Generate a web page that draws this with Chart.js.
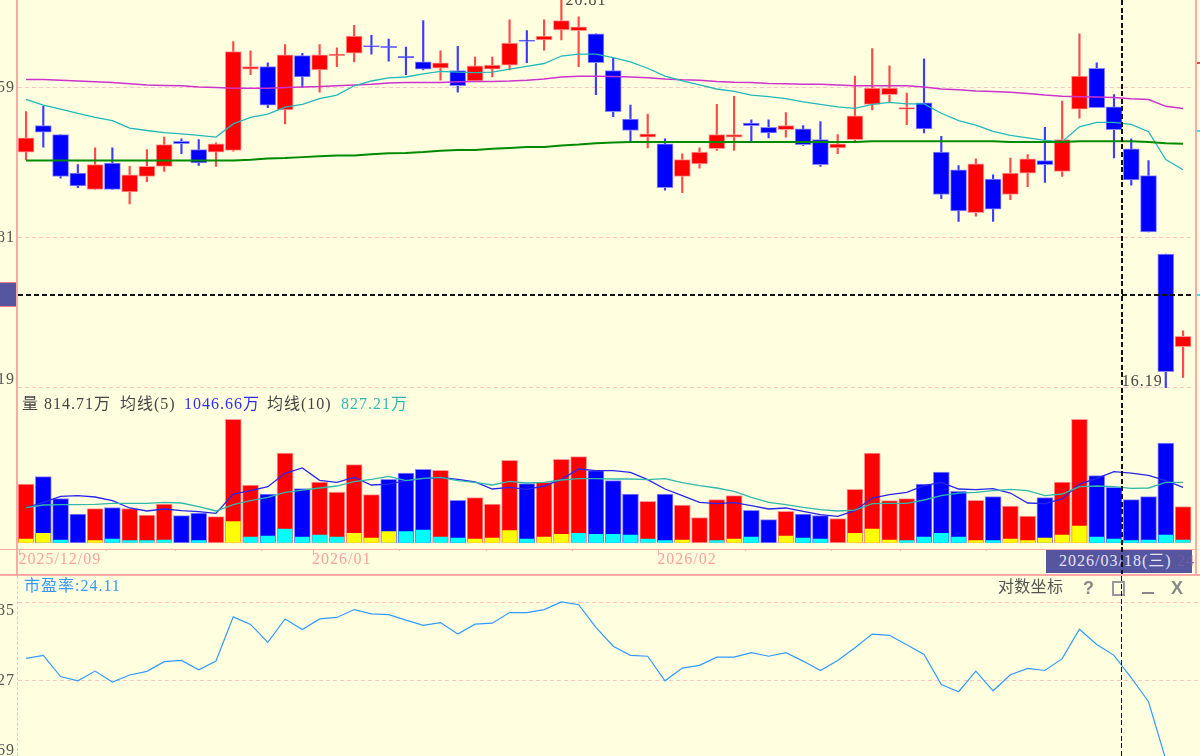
<!DOCTYPE html>
<html>
<head>
<meta charset="utf-8">
<script src="https://cdn.jsdelivr.net/npm/chart.js@4/dist/chart.umd.js"></script>
<style>
  html, body { margin: 0; padding: 0; background: #ffffe0; width: 1200px; height: 756px; overflow: hidden; }
  canvas { position: absolute; left: 0; display: block; }
  .txt { position: absolute; white-space: nowrap; font: 16px "Liberation Serif", "Noto Sans CJK SC", serif; letter-spacing: 1px; line-height: 18px; color: #444; z-index: 3; }
  .line { position: absolute; background: #ffa8a8; z-index: 2; }
  .icon { position: absolute; font: bold 18px "Liberation Sans", sans-serif; color: #888; line-height: 18px; z-index: 3; }
  .cursor-v { position: absolute; left: 1120.5px; width: 2px; background: repeating-linear-gradient(to bottom, #111 0 5px, transparent 5px 7.6px); z-index: 4; }
  .cursor-h { position: absolute; left: 18px; width: 1174px; top: 293.5px; height: 2px; background: repeating-linear-gradient(to right, #111 0 5px, transparent 5px 8px); z-index: 4; }
  .box { position: absolute; background: #5555a0; z-index: 2; }
  .mark { position: absolute; width: 4px; height: 2px; left: 1197px; z-index: 2; }
</style>
</head>
<body>
<canvas id="price-chart" width="1200" height="392" style="top:0"></canvas>
<canvas id="volume-chart" width="1200" height="186" style="top:388px"></canvas>
<canvas id="pe-chart" width="1200" height="184" style="top:575px"></canvas>

<!-- marcos del panel -->
<div class="line" style="left:16px;top:0;width:2px;height:574px"></div>
<div class="line" style="left:1195px;top:0;width:2px;height:574px"></div>
<div class="line" style="left:0;top:549px;width:1197px;height:1px"></div>
<div class="line" style="left:0;top:574px;width:1200px;height:2px"></div>
<div style="position:absolute;left:16.5px;top:576px;height:180px;border-left:1px dashed #ffbcbc;z-index:2"></div>

<div class="box" style="left:0;top:282px;width:16px;height:23px;border-top:1px solid #f07a90;border-bottom:1px solid #f07a90"></div>
<div class="box" style="left:1046px;top:550px;width:146px;height:23px"></div>
<div class="txt" style="left:1059px;top:552px;color:#e4e4f4">2026/03/18(三)</div>
<div class="txt" style="left:1177px;top:552px;color:#7a5aa0">24</div>

<div class="mark" style="top:62px;background:#e05050"></div>
<div class="mark" style="top:130px;background:#40e0e0"></div>
<div class="mark" style="top:294px;background:#40e0e0"></div>

<div class="cursor-h"></div>
<div class="cursor-v" style="top:0;height:574px"></div>
<div class="cursor-v" style="top:576px;height:180px;width:1.5px"></div>

<!-- leyenda de volumen -->
<div class="txt" style="left:22px;top:395px">量</div>
<div class="txt" id="vol-current" style="left:44px;top:395px"></div>
<div class="txt" style="left:120px;top:395px">均线(5)</div>
<div class="txt" id="vol-ma5" style="left:184px;top:395px;color:#3030e8"></div>
<div class="txt" style="left:267px;top:395px">均线(10)</div>
<div class="txt" id="vol-ma10" style="left:341px;top:395px;color:#30b8b0"></div>

<div class="txt" id="pe-current" style="left:24px;top:577px;color:#3399ff"></div>
<div class="txt" style="left:998px;top:578px;color:#555;letter-spacing:.3px">对数坐标</div>
<div class="icon" style="left:1083px;top:579px">?</div>
<div class="icon" style="left:1112px;top:581px;width:9px;height:11px;border:2px solid #999"></div>
<div class="icon" style="left:1142px;top:592px;width:12px;height:2px;background:#888"></div>
<div class="icon" style="left:1171px;top:579px">X</div>

<script>
// --- DATOS ---
const opens = [18.81,19.13,19.02,18.56,18.37,18.68,18.34,18.52,18.64,18.94,18.84,18.81,18.83,19.83,19.86,19.32,20.00,19.82,20.00,20.03,20.12,20.12,19.99,19.92,19.84,19.81,19.68,19.83,19.88,20.19,20.20,20.33,20.32,20.28,19.81,19.21,18.99,18.91,18.52,18.67,18.85,18.99,19.16,19.11,19.08,19.09,18.96,18.86,18.96,19.39,19.51,19.33,19.41,18.81,18.60,18.10,18.49,18.31,18.56,18.71,18.58,19.33,19.84,19.36,18.85,18.53,17.63,16.62];
const closes = [18.98,19.05,18.52,18.41,18.66,18.37,18.54,18.64,18.90,18.91,18.68,18.91,20.05,19.86,19.38,20.01,19.73,20.01,20.02,20.25,20.11,20.10,19.97,19.83,19.91,19.62,19.87,19.88,20.16,20.18,20.25,20.45,20.37,19.91,19.30,19.07,19.03,18.39,18.72,18.81,19.02,19.02,19.13,19.04,19.13,18.90,18.66,18.91,19.25,19.59,19.59,19.35,19.09,18.31,18.12,18.67,18.14,18.56,18.73,18.66,18.96,19.74,19.35,19.08,18.48,17.88,16.36,16.73];
const highs = [19.30,19.37,19.02,18.66,18.86,18.86,18.64,18.84,18.99,18.97,18.96,18.92,20.18,20.06,19.91,20.14,20.03,20.14,20.10,20.39,20.26,20.21,20.11,20.45,20.06,20.12,19.98,19.98,20.46,20.32,20.46,20.81,20.50,20.28,19.97,19.38,19.27,18.97,18.79,18.86,19.39,19.49,19.20,19.20,19.29,19.13,19.18,19.02,19.74,20.09,19.87,19.53,19.96,19.00,18.65,18.73,18.54,18.74,18.78,19.11,19.43,20.28,19.91,19.51,18.97,18.71,17.63,16.79];
const lows = [18.72,18.87,18.50,18.39,18.37,18.37,18.20,18.46,18.58,18.79,18.65,18.64,18.82,19.76,19.35,19.15,19.60,19.54,19.86,19.92,20.02,19.93,19.76,19.82,19.69,19.54,19.67,19.73,19.82,19.91,20.07,20.20,19.86,19.51,19.24,18.93,18.86,18.36,18.33,18.62,18.83,18.83,18.93,18.98,18.99,18.89,18.64,18.79,18.94,19.32,19.42,19.14,19.04,18.26,18.00,18.06,18.00,18.25,18.40,18.45,18.52,19.22,19.35,18.74,18.42,17.88,16.19,16.30];

const priceMaLong = [19.70,19.70,19.69,19.68,19.67,19.66,19.645,19.63,19.625,19.62,19.605,19.60,19.59,19.59,19.59,19.60,19.605,19.61,19.62,19.63,19.64,19.655,19.66,19.66,19.66,19.67,19.675,19.675,19.68,19.69,19.705,19.73,19.74,19.74,19.735,19.73,19.72,19.705,19.695,19.69,19.675,19.665,19.66,19.65,19.645,19.64,19.64,19.63,19.62,19.62,19.62,19.62,19.605,19.58,19.57,19.555,19.55,19.54,19.525,19.505,19.49,19.485,19.48,19.475,19.46,19.45,19.365,19.34];
const priceMaMid = [19.45,19.38,19.33,19.28,19.23,19.19,19.10,19.07,19.045,19.03,19.01,18.99,19.15,19.23,19.27,19.355,19.39,19.46,19.505,19.62,19.68,19.72,19.73,19.77,19.80,19.79,19.785,19.79,19.83,19.865,19.90,19.995,20.02,20.02,19.975,19.92,19.84,19.74,19.68,19.63,19.58,19.55,19.505,19.485,19.46,19.42,19.39,19.36,19.34,19.39,19.415,19.395,19.395,19.28,19.19,19.135,19.06,19.01,18.98,18.95,18.935,19.115,19.17,19.17,19.145,19.055,18.72,18.60];
const priceMaBase = [18.71,18.71,18.71,18.71,18.71,18.71,18.71,18.71,18.71,18.71,18.71,18.71,18.71,18.72,18.735,18.74,18.75,18.76,18.77,18.77,18.785,18.795,18.80,18.81,18.825,18.835,18.835,18.85,18.86,18.87,18.87,18.89,18.90,18.915,18.925,18.93,18.93,18.93,18.93,18.93,18.93,18.93,18.93,18.93,18.93,18.93,18.93,18.93,18.93,18.94,18.94,18.94,18.94,18.94,18.94,18.94,18.94,18.93,18.93,18.93,18.93,18.94,18.94,18.94,18.94,18.93,18.915,18.91];

const volumes = [864,972,649,425,503,518,503,410,571,400,439,386,1812,850,718,1318,796,894,747,1148,708,933,1025,1079,1064,625,664,571,1211,869,889,1226,1265,1060,913,718,610,718,557,371,635,693,479,342,464,425,400,356,786,1318,620,649,864,1040,757,625,679,542,396,664,894,1812,986,814.71,635,679,1465,532];
const yellowVolumes = [49,132,0,0,24,0,0,0,0,0,0,0,303,0,0,0,0,0,0,132,63,156,0,0,0,0,49,63,171,0,78,117,0,0,0,0,0,0,34,0,0,49,0,0,93,0,0,0,132,195,34,0,0,0,0,24,0,49,24,63,107,239,0,0,0,0,0,0];
const cyanVolumes = [0,0,34,0,0,49,24,24,34,0,24,0,0,78,93,195,78,107,78,0,0,0,156,181,78,63,0,0,0,49,0,0,132,117,117,107,49,24,0,0,24,0,78,0,0,63,49,0,0,0,0,24,78,132,78,0,24,0,0,0,0,0,78,49,24,34,107,34];
const volumeMa5 = [518,596,684,693,674,620,513,469,498,474,459,435,718,767,825,1021,1099,918,889,962,850,864,913,942,962,933,894,791,815,786,835,933,1084,1060,1060,1035,928,791,693,596,576,591,547,498,513,464,415,391,474,659,708,742,840,889,791,781,796,732,586,576,645,864,947,1046.66,1025,991,913,815];
const volumeMa10 = [518,557,562,562,566,581,581,581,596,586,532,469,562,620,669,742,776,806,835,898,933,977,913,947,962,913,889,850,903,879,889,923,942,942,938,938,928,942,884,840,806,757,669,596,562,522,488,469,483,576,581,581,630,693,732,742,767,786,767,693,718,825,835,827.21,801,806,889,889];
const volumeRedOverride = [20];

const peValues = [24.01,24.11,23.41,23.27,23.59,23.23,23.46,23.58,23.90,23.94,23.63,23.92,25.38,25.13,24.54,25.31,24.96,25.31,25.36,25.62,25.48,25.45,25.27,25.10,25.19,24.81,25.14,25.17,25.52,25.52,25.62,25.87,25.78,25.03,24.41,24.11,24.08,23.27,23.69,23.78,24.05,24.05,24.20,24.08,24.20,23.92,23.61,23.94,24.36,24.81,24.77,24.46,24.14,23.15,22.91,23.59,22.94,23.47,23.68,23.61,24.00,24.97,24.47,24.11,23.37,22.58,20.67,null];

const priceTicks = [19.59, 17.81, 16.19];
const priceTickLabels = ['59', '81', '19'];
const peTicks = [25.85, 23.27, 20.69];
const peTickLabels = ['85', '27', '69'];

const dateTickIndexes = [0, 5, 9, 14, 17, 22, 27, 32, 37, 42, 47, 51, 56, 61, 65];
const dateLabelIndexes = [0, 17, 37];
const dateLabels = ['2025/12/09', '2026/01', '2026/02'];

const categories = opens.map((_, i) => i);

// --- ESTILOS ---
const RED = '#ff0000';
const BLUE = '#0000ff';
const TEXT_FONT = '16px "Liberation Serif", serif';
const GRID_COLOR = '#ffc4c4';

const isUp = closes.map((c, i) => c >= opens[i]);

// --- UTILERÍAS ---
function noScaleOptions(min, max, type) {
    return {
        x: { display: false, offset: true },
        y: { display: false, type: type || 'linear', min: min, max: max }
    };
}

function baseOptions(padding, scales) {
    return {
        responsive: false,
        animation: false,
        events: [],
        layout: { padding: padding },
        plugins: { legend: { display: false }, tooltip: { enabled: false } },
        scales: scales
    };
}

function lineDataset(data, color, width, order) {
    return { type: 'line', data: data, borderColor: color, borderWidth: width, pointRadius: 0, tension: 0, spanGaps: false, order: order };
}

function barDataset(data, colors, thickness, order, border) {
    return {
        type: 'bar', data: data, backgroundColor: colors, barThickness: thickness, grouped: false, order: order,
        borderColor: border || 'transparent', borderWidth: border ? 1 : 0, borderSkipped: false, minBarLength: 1.5
    };
}

// líneas punteadas y etiquetas recortadas del eje izquierdo
function panelAxisPlugin(values, labels, nudges, rightEdge) {
    return {
        id: 'panelAxis',
        beforeDatasetsDraw(chart) {
            const { ctx, scales } = chart;
            ctx.save();
            ctx.strokeStyle = GRID_COLOR;
            ctx.lineWidth = 1;
            ctx.setLineDash([4, 3]);
            values.forEach(v => {
                const y = Math.round(scales.y.getPixelForValue(v)) - 0.5;
                ctx.beginPath();
                ctx.moveTo(18, y);
                ctx.lineTo(rightEdge, y);
                ctx.stroke();
            });
            ctx.restore();
        },
        afterDraw(chart) {
            const { ctx, scales } = chart;
            ctx.save();
            ctx.font = TEXT_FONT;
            ctx.letterSpacing = '1px';
            ctx.fillStyle = '#555';
            ctx.textAlign = 'right';
            ctx.textBaseline = 'middle';
            values.forEach((v, i) => {
                ctx.fillText(labels[i], 15, scales.y.getPixelForValue(v) + nudges[i]);
            });
            ctx.restore();
        }
    };
}

// máximo y mínimo rotulados junto a sus mechas
const extremeLabelsPlugin = {
    id: 'extremeLabels',
    afterDraw(chart) {
        const { ctx, scales } = chart;
        const highIndex = highs.indexOf(Math.max(...highs));
        const lowIndex = lows.indexOf(Math.min(...lows));
        ctx.save();
        ctx.font = TEXT_FONT;
        ctx.letterSpacing = '1px';
        ctx.fillStyle = '#444';
        ctx.textBaseline = 'bottom';
        ctx.textAlign = 'left';
        ctx.fillText(highs[highIndex].toFixed(2), scales.x.getPixelForValue(highIndex) + 4, scales.y.getPixelForValue(highs[highIndex]) + 16);
        ctx.textAlign = 'right';
        ctx.fillText(lows[lowIndex].toFixed(2), scales.x.getPixelForValue(lowIndex) - 3, scales.y.getPixelForValue(lows[lowIndex]) + 2);
        ctx.restore();
    }
};

// eje de fechas bajo el volumen
const dateAxisPlugin = {
    id: 'dateAxis',
    afterDraw(chart) {
        const { ctx, scales, chartArea } = chart;
        const band = scales.x.getPixelForValue(1) - scales.x.getPixelForValue(0);
        const axisTop = chartArea.bottom + 6;
        ctx.save();
        ctx.strokeStyle = '#ffa8a8';
        ctx.lineWidth = 1;
        dateTickIndexes.forEach(i => {
            const x = Math.round(scales.x.getPixelForValue(i) - band / 2 + 2) + 0.5;
            const isLabelled = dateLabelIndexes.includes(i);
            ctx.beginPath();
            ctx.moveTo(x, axisTop);
            ctx.lineTo(x, axisTop + (isLabelled ? 6 : 2));
            ctx.stroke();
        });
        ctx.font = TEXT_FONT;
        ctx.letterSpacing = '1px';
        ctx.fillStyle = '#ffa0a0';
        ctx.textBaseline = 'middle';
        dateLabelIndexes.forEach((i, n) => {
            const x = scales.x.getPixelForValue(i) - band / 2 + 1;
            ctx.fillText(dateLabels[n], x, chartArea.bottom + 17);
        });
        ctx.restore();
    }
};

// --- GRÁFICO DE VELAS ---
const candleColors = isUp.map(up => up ? RED : BLUE);
const wickColors = isUp.map(up => up ? '#ff4a4a' : '#3c3cff');
const candleBorders = isUp.map(up => up ? '#ff9a9a' : '#8a8aff');

new Chart(document.getElementById('price-chart'), {
    data: {
        labels: categories,
        datasets: [
            barDataset(lows.map((l, i) => [l, highs[i]]), wickColors, 1.5, 5),
            barDataset(opens.map((o, i) => [o, closes[i]]), candleColors, 16, 4, candleBorders),
            lineDataset(priceMaLong, '#cc33cc', 1.5, 3),
            lineDataset(priceMaMid, '#20b8b8', 1.3, 2),
            lineDataset(priceMaBase, '#008a00', 2, 1)
        ]
    },
    options: baseOptions({ left: 17.4, right: 8.3, top: 0, bottom: 4 }, noScaleOptions(16.19, 20.72, 'logarithmic')),
    plugins: [panelAxisPlugin(priceTicks, priceTickLabels, [0, 0, -8], 1193), extremeLabelsPlugin]
});

// --- GRÁFICO DE VOLUMEN ---
const volumeIsRed = isUp.map((up, i) => up || volumeRedOverride.includes(i));
const innerBase = 10;
const toInner = list => list.map(v => v > 0 ? [innerBase, v + innerBase] : null);

new Chart(document.getElementById('volume-chart'), {
    data: {
        labels: categories,
        datasets: [
            barDataset(volumes, volumeIsRed.map(r => r ? RED : BLUE), 16, 5, volumeIsRed.map(r => r ? '#ff9a9a' : '#8a8aff')),
            barDataset(toInner(yellowVolumes), '#ffff00', 14, 4),
            barDataset(toInner(cyanVolumes), '#00ffff', 14, 3),
            lineDataset(volumeMa5, '#2626ee', 1.3, 2),
            lineDataset(volumeMa10, '#30b8aa', 1.3, 1)
        ]
    },
    options: baseOptions({ left: 17.4, right: 8.3, top: 0, bottom: 31 }, noScaleOptions(0, 2271)),
    plugins: [dateAxisPlugin]
});

// --- GRÁFICO DE PER ---
new Chart(document.getElementById('pe-chart'), {
    data: {
        labels: categories,
        datasets: [lineDataset(peValues, '#3399ff', 1.2, 1)]
    },
    options: baseOptions({ left: 17.4, right: 8.3, top: 0, bottom: 0 }, noScaleOptions(20.69, 26.76)),
    plugins: [panelAxisPlugin(peTicks, peTickLabels, [8, 0, -8], 1200)]
});

// --- TEXTOS DE LA LEYENDA ---
const cursorIndex = 63;
document.getElementById('vol-current').textContent = volumes[cursorIndex].toFixed(2) + '万';
document.getElementById('vol-ma5').textContent = volumeMa5[cursorIndex].toFixed(2) + '万';
document.getElementById('vol-ma10').textContent = volumeMa10[cursorIndex].toFixed(2) + '万';
document.getElementById('pe-current').textContent = '市盈率:' + peValues[cursorIndex].toFixed(2);
</script>
</body>
</html>
